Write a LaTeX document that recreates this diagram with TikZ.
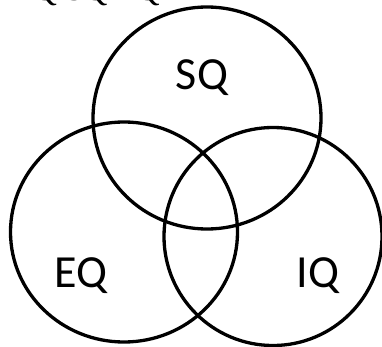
\documentclass[tikz,border=0pt]{standalone}
\usepackage{fontspec}
\setmainfont{Carlito}
\newfontfamily\headfont{Liberation Serif}
\usetikzlibrary{shapes.geometric}
\tikzset{
  set/.style={draw, ellipse, line width=3.3pt, inner sep=0pt},
  setname/.style={anchor=base, font=\fontsize{46}{52}\selectfont}
}
\begin{document}
\begin{tikzpicture}[x=1pt,y=-1pt]
\useasboundingbox (0,0) rectangle (382,347);
\clip (0,0) rectangle (382,347);
% line cut off at the top
\node[anchor=base west, inner sep=0pt, font=\headfont\fontsize{33}{38}\selectfont] (head) at (33,0.5) {Q SQ EQ};
% the three sets
\node[set, minimum width=228pt, minimum height=222pt] (sq) at (207,118) {};
\node[set, minimum width=227pt, minimum height=220pt] (eq) at (124,232) {};
\node[set, minimum width=218pt, minimum height=218pt] (iq) at (273,236.5) {};
\node[setname] (sqname) at (202,90) {SQ};
\node[setname] (eqname) at (81,287) {EQ};
\node[setname] (iqname) at (318,287) {IQ};
\end{tikzpicture}
\end{document}
